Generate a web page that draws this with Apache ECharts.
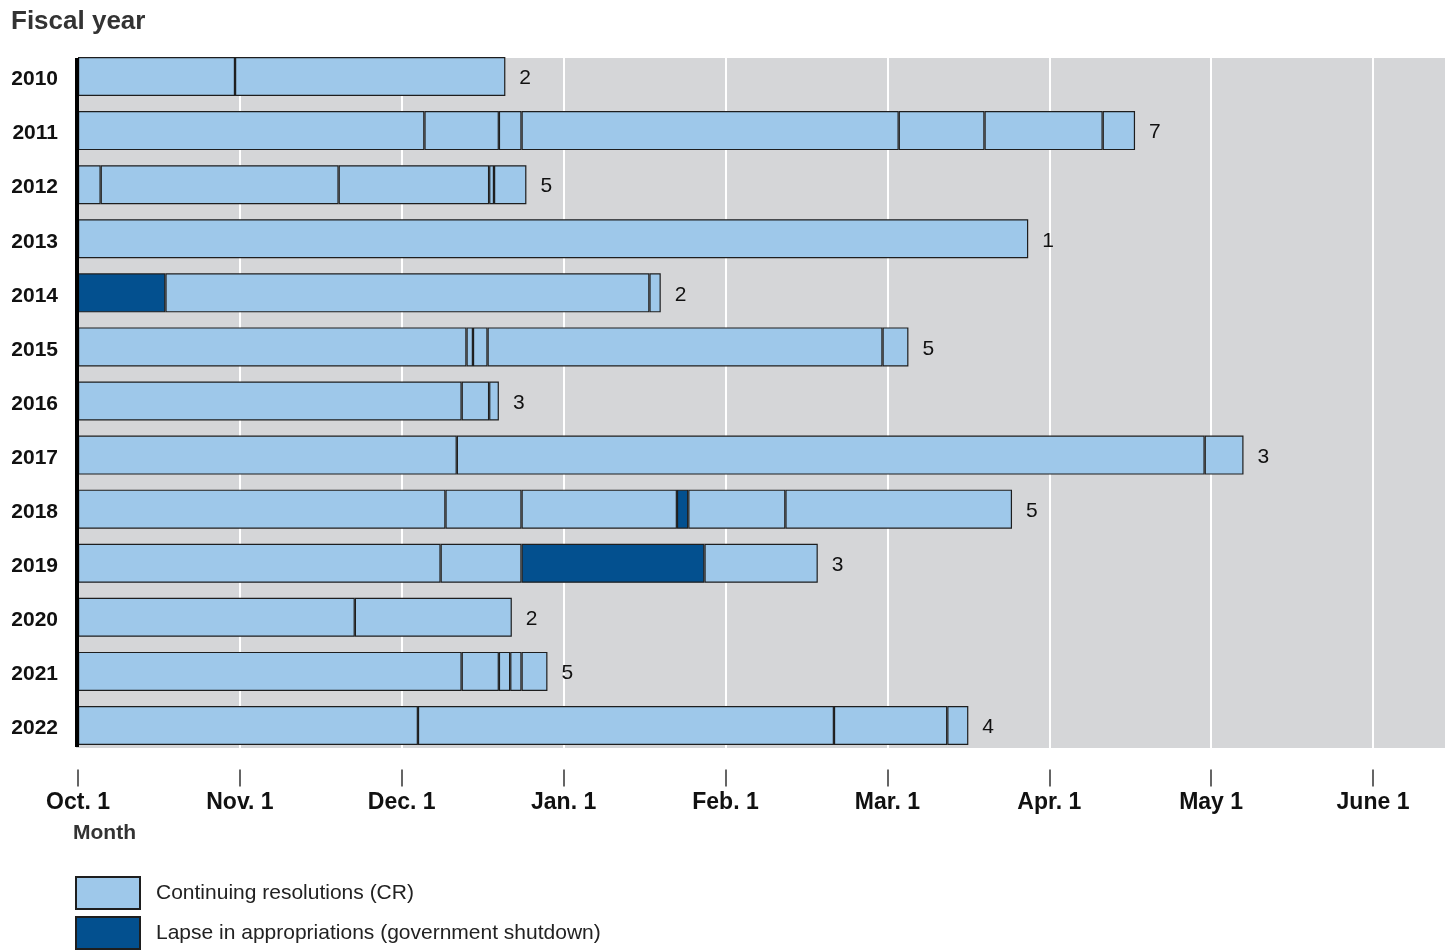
<!DOCTYPE html>
<html>
<head>
<meta charset="utf-8">
<script src="https://cdn.jsdelivr.net/npm/echarts@6/dist/echarts.min.js"></script>
<style>
  html, body { margin: 0; padding: 0; background: #fff; }
  #chart { width: 1450px; height: 950px; }
</style>
</head>
<body>
<div id="chart"></div>
<script>
// Fiscal years (categories)
const years = ['2010','2011','2012','2013','2014','2015','2016','2017','2018','2019','2020','2021','2022'];
// Number of continuing resolutions per fiscal year (labels at bar ends)
const crCounts = [2, 7, 5, 1, 2, 5, 3, 3, 5, 3, 2, 5, 4];
// Month tick labels (evenly spaced months, starting Oct. 1)
const monthLabels = ['Oct. 1','Nov. 1','Dec. 1','Jan. 1','Feb. 1','Mar. 1','Apr. 1','May 1','June 1'];

// Segment end points per fiscal year, in months after Oct. 1
const fy2010 = [0.97, 2.64];
const fy2011 = [2.14, 2.60, 2.74, 5.07, 5.60, 6.33, 6.53];
const fy2012 = [0.14, 1.61, 2.54, 2.57, 2.77];
const fy2013 = [5.87];
const fy2014 = [0.54, 3.53, 3.60];
const fy2015 = [2.40, 2.44, 2.53, 4.97, 5.13];
const fy2016 = [2.37, 2.54, 2.60];
const fy2017 = [2.34, 6.96, 7.20];
const fy2018 = [2.27, 2.74, 3.70, 3.77, 4.37, 5.77];
const fy2019 = [2.24, 2.74, 3.87, 4.57];
const fy2020 = [1.71, 2.68];
const fy2021 = [2.37, 2.60, 2.67, 2.74, 2.90];
const fy2022 = [2.10, 4.67, 5.37, 5.50];

// Segments that are lapses in appropriations (shutdowns): fiscal year and segment index
const shutdownYears = ['2014', '2018', '2019'];
const shutdownSegIndex = [0, 3, 2];

const allEnds = [fy2010, fy2011, fy2012, fy2013, fy2014, fy2015, fy2016, fy2017, fy2018, fy2019, fy2020, fy2021, fy2022];

const CR_NAME = 'Continuing resolutions (CR)';
const LAPSE_NAME = 'Lapse in appropriations (government shutdown)';
const CR_COLOR = '#9ec8ea';
const LAPSE_COLOR = '#03508f';
const BORDER = '#1e1e1e';
const FONT = "'Liberation Sans', Arial, sans-serif";

const maxSeg = Math.max(...allEnds.map(a => a.length));
const series = [];
for (let k = 0; k < maxSeg; k++) {
  const data = years.map((y, i) => {
    const ends = allEnds[i];
    if (k >= ends.length) return '-';
    const start = k === 0 ? 0 : ends[k - 1];
    const dur = +(ends[k] - start).toFixed(4);
    const si = shutdownYears.indexOf(y);
    const isLapse = si >= 0 && shutdownSegIndex[si] === k;
    const item = { value: dur, itemStyle: { color: isLapse ? LAPSE_COLOR : CR_COLOR } };
    if (k === ends.length - 1) {
      item.label = {
        show: true, position: 'right', distance: 14, offset: [0, 2],
        formatter: String(crCounts[i]),
        fontSize: 21, color: '#111', fontFamily: FONT
      };
    }
    return item;
  });
  series.push({
    name: 'seg' + k,
    type: 'bar',
    stack: 'fy',
    barWidth: 39,
    data: data,
    itemStyle: { borderColor: BORDER, borderWidth: 1.2 },
    z: 3
  });
}
// Legend-only series
series.push({
  name: CR_NAME, type: 'bar', data: [],
  itemStyle: { color: CR_COLOR, borderColor: BORDER, borderWidth: 1.2 }
});
series.push({
  name: LAPSE_NAME, type: 'bar', data: [],
  itemStyle: { color: LAPSE_COLOR, borderColor: BORDER, borderWidth: 1.2 }
});

const legendBase = {
  orient: 'vertical', left: 75, padding: 0,
  itemWidth: 64, itemHeight: 32,
  icon: 'rect',
  textStyle: { fontSize: 21, color: '#222', fontFamily: FONT, padding: [0, 0, 0, 11] }
};

const chart = echarts.init(document.getElementById('chart'), null, { renderer: 'canvas' });
chart.setOption({
  animation: false,
  backgroundColor: '#ffffff',
  textStyle: { fontFamily: FONT },
  title: [
    { text: 'Fiscal year', left: 6, top: 4,
      textStyle: { fontSize: 26, fontWeight: 'bold', color: '#333', fontFamily: FONT } },
    { text: 'Month', left: 68, top: 818,
      textStyle: { fontSize: 21, fontWeight: 'bold', color: '#333', fontFamily: FONT } }
  ],
  graphic: [
    { type: 'rect', z: -10, shape: { x: 76, y: 58, width: 1369, height: 690 }, style: { fill: '#d5d6d8' } },
    { type: 'rect', z: 50, shape: { x: 75, y: 58, width: 4, height: 689 }, style: { fill: '#000' } }
  ],
  legend: [
    Object.assign({}, legendBase, { data: [CR_NAME], top: 876 }),
    Object.assign({}, legendBase, { data: [LAPSE_NAME], top: 916 })
  ],
  grid: { left: 78, right: 77, top: 52.5, bottom: 194.5, containLabel: false },
  xAxis: {
    type: 'value', min: 0, max: 8, interval: 1,
    offset: 14,
    axisLine: { show: false },
    axisTick: { show: true, length: 17, lineStyle: { color: '#333', width: 1.5 } },
    axisLabel: {
      margin: 22, fontSize: 23, fontWeight: 'bold', color: '#111', fontFamily: FONT,
      formatter: v => monthLabels[Math.round(v)] || ''
    },
    splitLine: { show: true, showMinLine: false, lineStyle: { color: '#ffffff', width: 2 } }
  },
  yAxis: {
    type: 'category', data: years, inverse: true,
    axisLine: { show: false }, axisTick: { show: false },
    axisLabel: { margin: 20, fontSize: 21, fontWeight: 'bold', color: '#111', fontFamily: FONT },
    splitLine: { show: false }
  },
  series: series
});
</script>
</body>
</html>
